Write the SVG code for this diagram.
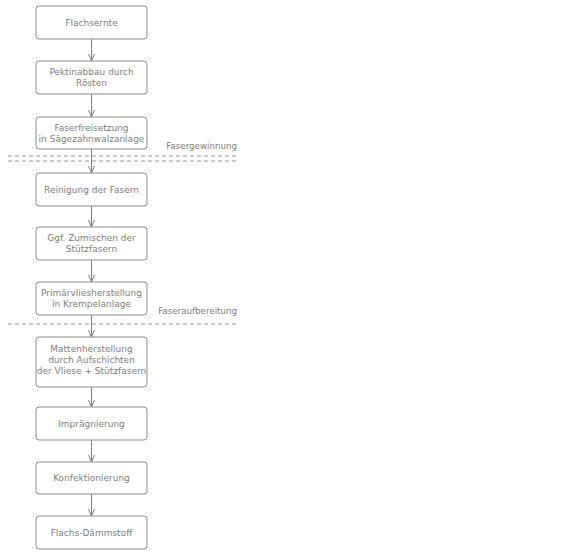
<svg xmlns="http://www.w3.org/2000/svg" width="587" height="553" viewBox="0 0 587 553">
<defs>
<style>
.box{fill:#fff;stroke:#8c8c8c;stroke-width:1}
.t{font-family:"DejaVu Sans",Verdana,sans-serif;font-size:9px;fill:#808080;text-anchor:middle}
.lab{font-family:"DejaVu Sans",Verdana,sans-serif;font-size:8.7px;fill:#808080;text-anchor:end}
.c{stroke:#808080;stroke-width:1;fill:none}
.d{stroke:#999;stroke-width:1;stroke-dasharray:4,3;fill:none}
</style>
<marker id="ah" viewBox="0 0 10 10" refX="9" refY="5" markerWidth="10" markerHeight="10" markerUnits="userSpaceOnUse" orient="auto">
<path d="M2,2 L9,5 L2,8" fill="none" stroke="#808080" stroke-width="1"/>
</marker>
</defs>
<rect width="587" height="553" fill="#fff"/>
<g id="separators">
<line class="d" x1="8" y1="156" x2="238" y2="156"/>
<line class="d" x1="8" y1="161" x2="238" y2="161"/>
<line class="d" x1="8" y1="324" x2="238" y2="324"/>
<text class="lab" x="237" y="149">Fasergewinnung</text>
<text class="lab" x="237" y="314">Faseraufbereitung</text>
</g>
<g id="connectors">
<line class="c" x1="91.5" y1="39" x2="91.5" y2="61" marker-end="url(#ah)"/>
<line class="c" x1="91.5" y1="94" x2="91.5" y2="117" marker-end="url(#ah)"/>
<line class="c" x1="91.5" y1="149" x2="91.5" y2="173" marker-end="url(#ah)"/>
<line class="c" x1="91.5" y1="206" x2="91.5" y2="227" marker-end="url(#ah)"/>
<line class="c" x1="91.5" y1="260" x2="91.5" y2="282" marker-end="url(#ah)"/>
<line class="c" x1="91.5" y1="315" x2="91.5" y2="337" marker-end="url(#ah)"/>
<line class="c" x1="91.5" y1="387" x2="91.5" y2="407" marker-end="url(#ah)"/>
<line class="c" x1="91.5" y1="440" x2="91.5" y2="462" marker-end="url(#ah)"/>
<line class="c" x1="91.5" y1="494" x2="91.5" y2="516" marker-end="url(#ah)"/>
</g>
<g id="n1"><rect class="box" x="36" y="6" width="111" height="33" rx="3"/><text class="t" x="91.5" y="25.8">Flachsernte</text></g>
<g id="n2"><rect class="box" x="36" y="61" width="111" height="33" rx="3"/><text class="t" x="91.5" y="75.3">Pektinabbau durch</text><text class="t" x="91.5" y="86.3">Rösten</text></g>
<g id="n3"><rect class="box" x="36" y="117" width="111" height="32" rx="3"/><text class="t" x="91.5" y="130.8">Faserfreisetzung</text><text class="t" x="91.5" y="141.8">in Sägezahnwalzanlage</text></g>
<g id="n4"><rect class="box" x="36" y="173" width="111" height="33" rx="3"/><text class="t" x="91.5" y="192.8">Reinigung der Fasern</text></g>
<g id="n5"><rect class="box" x="36" y="227" width="111" height="33" rx="3"/><text class="t" x="91.5" y="241.3">Ggf. Zumischen der</text><text class="t" x="91.5" y="252.3">Stützfasern</text></g>
<g id="n6"><rect class="box" x="36" y="282" width="111" height="33" rx="3"/><text class="t" x="91.5" y="296.3">Primärvliesherstellung</text><text class="t" x="91.5" y="307.3">in Krempelanlage</text></g>
<g id="n7"><rect class="box" x="36" y="337" width="111" height="50" rx="3"/><text class="t" x="91.5" y="352.3">Mattenherstellung</text><text class="t" x="91.5" y="363.3">durch Aufschichten</text><text class="t" x="91.5" y="374.3">der Vliese + Stützfasern</text></g>
<g id="n8"><rect class="box" x="36" y="407" width="111" height="33" rx="3"/><text class="t" x="91.5" y="426.8">Imprägnierung</text></g>
<g id="n9"><rect class="box" x="36" y="462" width="111" height="32" rx="3"/><text class="t" x="91.5" y="481.3">Konfektionierung</text></g>
<g id="n10"><rect class="box" x="36" y="516" width="111" height="33" rx="3"/><text class="t" x="91.5" y="535.8">Flachs-Dämmstoff</text></g>
</svg>
